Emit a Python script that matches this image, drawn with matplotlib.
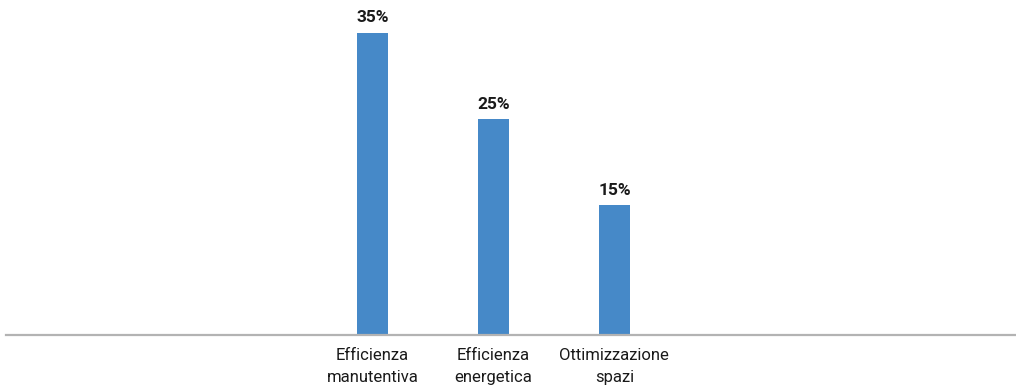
import matplotlib.pyplot as plt

categories = ["Efficienza\nmanutentiva", "Efficienza\nenergetica", "Ottimizzazione\nspazi"]
values = [35, 25, 15]
value_labels = ["35%", "25%", "15%"]

plt.rcParams["font.family"] = ["Roboto", "DejaVu Sans"]

fig = plt.figure(figsize=(10.16, 3.89), dpi=100)
ax = fig.add_axes([6 / 1016, (389 - 335) / 389, 1010 / 1016, 335 / 389])

x = list(range(len(categories)))
ax.bar(x, values, width=0.256, color="#4689c8", zorder=2)

# percent labels above each bar
for xi, v, lbl in zip(x, values, value_labels):
    ax.annotate(lbl, (xi, v), xytext=(0, 5.5), textcoords="offset points",
                ha="center", va="bottom", fontsize=12.5, fontweight="semibold", color="#1a1a1a")

ax.set_xlim(-3.03, 5.32)
ax.set_ylim(0, 38.8)
ax.set_xticks(x)
ax.set_xticklabels(categories, fontsize=12, color="#1a1a1a", linespacing=1.6)
ax.tick_params(axis="x", length=0, pad=9)
ax.set_yticks([])

for side in ["top", "right", "left"]:
    ax.spines[side].set_visible(False)
ax.spines["bottom"].set_color("#b3b3b3")
ax.spines["bottom"].set_linewidth(1.6)

fig.savefig("out.png", dpi=100)
